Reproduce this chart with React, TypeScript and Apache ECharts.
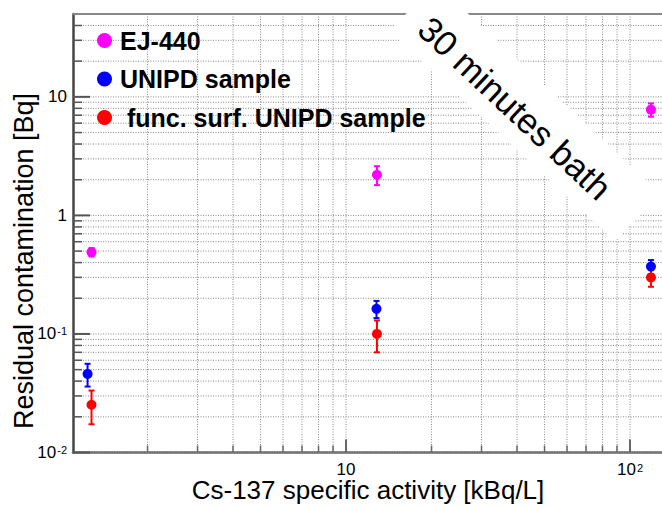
import React, { useEffect, useRef } from 'react';
import * as echarts from 'echarts';

const seriesNames = ['EJ-440', 'UNIPD sample', ' func. surf. UNIPD sample'];
const seriesColors = ['#ff00ff', '#0000ff', '#ff0000'];

const ejX = [1.27, 12.85, 118.5];
const ejY = [0.49, 2.2, 7.8];
const ejErr = [0.04, 0.4, 1.0];

const unipdX = [1.23, 12.8, 118.5];
const unipdY = [0.046, 0.163, 0.37];
const unipdErr = [0.01, 0.027, 0.05];

const funcX = [1.27, 12.85, 118.5];
const funcY = [0.0253, 0.1, 0.3];
const funcErr = [0.008, 0.03, 0.05];

const xMajorTicks = [10, 100];
const xMinorTicks = [2, 3, 4, 5, 6, 7, 8, 9, 20, 30, 40, 50, 60, 70, 80, 90];
const yMajorTicks = [0.01, 0.1, 1, 10];
const yMinorTicks = [
  0.02, 0.03, 0.04, 0.05, 0.06, 0.07, 0.08, 0.09,
  0.2, 0.3, 0.4, 0.5, 0.6, 0.7, 0.8, 0.9,
  2, 3, 4, 5, 6, 7, 8, 9,
  20, 30, 40,
];
const xRange = [1.093, 129.6];
const yRange = [0.01, 50];

const xTitle = 'Cs-137 specific activity [kBq/L]';
const yTitle = 'Residual contamination [Bq]';
const noteText = '30 minutes bath';

const FONT = '"Liberation Sans", Arial, Helvetica, sans-serif';

function fmtLog(v: number): string {
  const l = Math.log10(v);
  const e = Math.round(l);
  if (Math.abs(l - e) > 1e-6) return '';
  if (e === 0) return '1';
  if (e === 1) return '10';
  return '10{sup|' + (e < 0 ? '-' + -e : String(e)) + '}';
}

function gridSeries(dir: 'x' | 'y', majors: number[], minors: number[]) {
  const all = [...majors, ...minors];
  return {
    type: 'custom',
    silent: true,
    z: 1,
    xAxisIndex: 0,
    yAxisIndex: 0,
    data: all.map((v) => (dir === 'x' ? [v, 1] : [10, v])),
    renderItem: (params: any, api: any) => {
      const cs = params.coordSys;
      const idx = params.dataIndex;
      const isMajor = idx < majors.length;
      if (dir === 'x') {
        const x = api.coord([api.value(0), 1])[0];
        const yb = cs.y + cs.height;
        return {
          type: 'group',
          children: [
            { type: 'line', shape: { x1: x, y1: cs.y, x2: x, y2: yb }, style: { stroke: '#8a8a8a', lineWidth: 1, lineDash: [1, 1.5] } },
            { type: 'line', shape: { x1: x, y1: yb, x2: x, y2: yb - (isMajor ? 13 : 7) }, style: { stroke: '#666', lineWidth: isMajor ? 2 : 1.5 } },
          ],
        };
      }
      const y = api.coord([10, api.value(1)])[1];
      return {
        type: 'group',
        children: [
          { type: 'line', shape: { x1: cs.x, y1: y, x2: cs.x + cs.width, y2: y }, style: { stroke: '#8a8a8a', lineWidth: 1, lineDash: [1, 1.5] } },
          { type: 'line', shape: { x1: cs.x, y1: y, x2: cs.x + (isMajor ? 17 : 9), y2: y }, style: { stroke: '#555', lineWidth: isMajor ? 2 : 1.5 } },
        ],
      };
    },
  };
}

function errSeries(name: string, color: string, xs: number[], ys: number[], es: number[]) {
  return {
    type: 'custom',
    name: name,
    z: 3,
    data: xs.map((x, i) => [x, ys[i], es[i]]),
    renderItem: (params: any, api: any) => {
      const x = api.value(0);
      const y = api.value(1);
      const e = api.value(2);
      const hi = api.coord([x, y + e]);
      const lo = api.coord([x, y - e]);
      const w = 3;
      return {
        type: 'group',
        children: [
          { type: 'line', shape: { x1: hi[0], y1: hi[1], x2: lo[0], y2: lo[1] }, style: { stroke: color, lineWidth: 2 } },
          { type: 'line', shape: { x1: hi[0] - w, y1: hi[1], x2: hi[0] + w, y2: hi[1] }, style: { stroke: color, lineWidth: 2 } },
          { type: 'line', shape: { x1: lo[0] - w, y1: lo[1], x2: lo[0] + w, y2: lo[1] }, style: { stroke: color, lineWidth: 2 } },
        ],
      };
    },
  };
}

function scatterSeries(name: string, color: string, xs: number[], ys: number[]) {
  return {
    type: 'scatter',
    name: name,
    z: 4,
    symbol: 'circle',
    symbolSize: 10,
    itemStyle: { color: color, opacity: 1 },
    data: xs.map((x, i) => [x, ys[i]]),
  };
}

export default function App() {
  const ref = useRef<HTMLDivElement>(null);
  useEffect(() => {
    if (!ref.current) return;
    const chart = echarts.init(ref.current, null, { renderer: 'svg' });
    const rad = (-43 * Math.PI) / 180;
    const option: any = {
      animation: false,
      backgroundColor: '#ffffff',
      grid: { left: 73, right: 0, top: 14, bottom: 55.5, containLabel: false, outerBoundsMode: 'none' },
      legend: {
        orient: 'vertical',
        left: 92,
        top: 23,
        itemWidth: 15,
        itemHeight: 15,
        itemGap: 13.5,
        icon: 'circle',
        data: seriesNames,
        textStyle: { fontSize: 25, fontWeight: 'bold', fontFamily: FONT, color: '#000', padding: [0, 0, 0, 3] },
      },
      xAxis: [
        {
          type: 'log',
          logBase: 10,
          min: xRange[0],
          max: xRange[1],
          position: 'bottom',
          axisLine: { show: true, lineStyle: { color: '#666', width: 2.5 } },
          axisTick: { show: false },
          splitLine: { show: false },
          minorTick: { show: false },
          axisLabel: {
            show: true,
            margin: 10,
            lineHeight: 14,
            formatter: (v: number) => fmtLog(v),
            fontSize: 17,
            fontFamily: FONT,
            color: '#000',
            showMinLabel: false,
            showMaxLabel: false,
            rich: { sup: { fontSize: 11, lineHeight: 12, verticalAlign: 'top', fontFamily: FONT, color: '#000', padding: [0, 0, 6, 1] } },
          },
        },
        {
          type: 'log',
          logBase: 10,
          min: xRange[0],
          max: xRange[1],
          position: 'top',
          axisLine: { show: true, lineStyle: { color: '#888', width: 2 } },
          axisTick: { show: false },
          axisLabel: { show: false },
          splitLine: { show: false },
        },
      ],
      yAxis: {
        type: 'log',
        logBase: 10,
        min: yRange[0],
        max: yRange[1],
        axisLine: { show: true, lineStyle: { color: '#444', width: 2.5 } },
        axisTick: { show: false },
        splitLine: { show: false },
        minorTick: { show: false },
        axisLabel: {
          show: true,
          margin: 6,
          formatter: (v: number) => fmtLog(v),
          fontSize: 17,
          fontFamily: FONT,
          color: '#000',
          showMaxLabel: false,
          rich: { sup: { fontSize: 11, verticalAlign: 'top', fontFamily: FONT, color: '#000', padding: [0, 0, 6, 1] } },
        },
      },
      graphic: [
        {
          type: 'text',
          x: 368,
          y: 490,
          z: 100,
          style: { text: xTitle, fontSize: 26, fontFamily: FONT, fill: '#000', align: 'center', verticalAlign: 'middle' },
        },
        {
          type: 'text',
          x: 24,
          y: 261,
          rotation: Math.PI / 2,
          z: 100,
          style: { text: yTitle, fontSize: 27, fontFamily: FONT, fill: '#000', align: 'center', verticalAlign: 'middle' },
        },
        {
          type: 'group',
          x: 525,
          y: 112,
          rotation: rad,
          z: 100,
          children: [
            { type: 'rect', z: 100, shape: { x: -154, y: -33, width: 308, height: 66 }, style: { fill: '#ffffff' } },
            { type: 'text', z: 101, x: -10, y: 4, style: { text: noteText, fontSize: 35, fontFamily: FONT, fill: '#000', align: 'center', verticalAlign: 'middle' } },
          ],
        },
      ],
      series: [
        gridSeries('x', xMajorTicks, xMinorTicks),
        gridSeries('y', yMajorTicks, yMinorTicks),
        errSeries('err0', seriesColors[0], ejX, ejY, ejErr),
        errSeries('err1', seriesColors[1], unipdX, unipdY, unipdErr),
        errSeries('err2', seriesColors[2], funcX, funcY, funcErr),
        scatterSeries(seriesNames[0], seriesColors[0], ejX, ejY),
        scatterSeries(seriesNames[1], seriesColors[1], unipdX, unipdY),
        scatterSeries(seriesNames[2], seriesColors[2], funcX, funcY),
      ],
    };
    chart.setOption(option);
    return () => chart.dispose();
  }, []);
  return <div ref={ref} style={{ position: 'fixed', left: 0, top: 0, width: 662, height: 508 }} />;
}
